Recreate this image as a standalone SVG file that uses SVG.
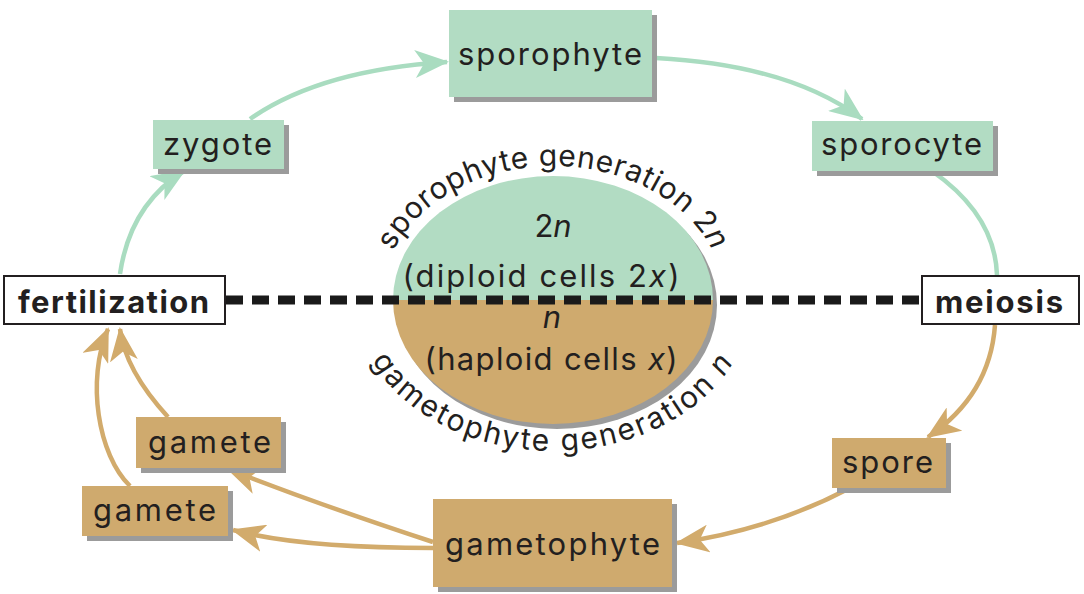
<svg xmlns="http://www.w3.org/2000/svg" width="1084" height="594" viewBox="0 0 1084 594">
<style>
.g{fill:#b2dcc3}
.t{fill:#cfaa6e}
.sh{fill:#9b9b9b}
.lbl{font-family:Inter,"Open Sans","DejaVu Sans",sans-serif;font-size:31px;fill:#231f20;text-anchor:middle}
.b{font-weight:bold}
.gl{fill:none;stroke:#a9dcc0;stroke-width:4.5}
.tl{fill:none;stroke:#d2ab6c;stroke-width:4.5}
.arc{font-family:Inter,"Open Sans","DejaVu Sans",sans-serif;font-size:30px;fill:#231f20}
</style>
<defs>
<marker id="ag" viewBox="0 0 34 28" refX="32" refY="14" markerWidth="34" markerHeight="28" markerUnits="userSpaceOnUse" orient="auto">
<path d="M34,14 L0,0 L9,14 L0,28 Z" fill="#a9dcc0"/>
</marker>
<marker id="at" viewBox="0 0 34 28" refX="32" refY="14" markerWidth="34" markerHeight="28" markerUnits="userSpaceOnUse" orient="auto">
<path d="M34,14 L0,0 L9,14 L0,28 Z" fill="#d2ab6c"/>
</marker>
<path id="topArc" d="M381,301 A172,135 0 0 1 725,301"/>
<path id="botArc" d="M355,300 A198,151 0 0 0 751,300"/>
</defs>
<rect width="1084" height="594" fill="#ffffff"/>

<g id="center">
<ellipse cx="557" cy="305" rx="160" ry="124" class="sh"/>
<path d="M393,300 A160,124 0 0 1 713,300 Z" class="g"/>
<path d="M393,300 A160,124 0 0 0 713,300 Z" class="t"/>
<text class="lbl" x="553" y="237">2<tspan font-style="italic">n</tspan></text>
<text class="lbl" x="541" y="287" textLength="277" lengthAdjust="spacing">(diploid cells 2<tspan font-style="italic">x</tspan>)</text>
<text class="lbl" x="552" y="328" font-style="italic">n</text>
<text class="lbl" x="551" y="370" textLength="253" lengthAdjust="spacing">(haploid cells <tspan font-style="italic">x</tspan>)</text>
<text class="arc" letter-spacing="0.6"><textPath href="#topArc" startOffset="50%" text-anchor="middle">sporophyte generation 2<tspan font-style="italic">n</tspan></textPath></text>
<text class="arc" letter-spacing="2.1"><textPath href="#botArc" startOffset="50%" text-anchor="middle">gametophyte generation <tspan font-style="italic">n</tspan></textPath></text>
</g>

<g id="connectors">
<line x1="226" y1="300" x2="921" y2="300" stroke="#1a1a1a" stroke-width="9" stroke-dasharray="17 9"/>
<path class="gl" d="M250,119 Q320,70 447,62" marker-end="url(#ag)"/>
<path class="gl" d="M656,58 Q790,65 862,119" marker-end="url(#ag)"/>
<path class="gl" d="M120,274 Q130,205 184,171" marker-end="url(#ag)"/>
<path class="gl" d="M932,171 Q995,215 997,275"/>
<path class="tl" d="M995,325 Q990,395 928,437" marker-end="url(#at)"/>
<path class="tl" d="M850,488 Q770,530 677,543" marker-end="url(#at)"/>
<path class="tl" d="M433,542 Q320,505 228,469" marker-end="url(#at)"/>
<path class="tl" d="M433,548 Q300,548 233,530" marker-end="url(#at)"/>
<path class="tl" d="M168,417 Q125,370 120,329" marker-end="url(#at)"/>
<path class="tl" d="M130,486 C98,455 86,380 108,329" marker-end="url(#at)"/>
</g>

<g id="sporophyte">
<rect x="454" y="15" width="203" height="87" class="sh"/>
<rect x="449" y="10" width="203" height="87" class="g"/>
<text class="lbl" x="550" y="65" textLength="184" lengthAdjust="spacing">sporophyte</text>
</g>
<g id="zygote">
<rect x="158" y="125" width="131" height="49" class="sh"/>
<rect x="153" y="120" width="131" height="49" class="g"/>
<text class="lbl" x="217.5" y="155" textLength="109" lengthAdjust="spacing">zygote</text>
</g>
<g id="sporocyte">
<rect x="817" y="126" width="181" height="50" class="sh"/>
<rect x="812" y="121" width="181" height="50" class="g"/>
<text class="lbl" x="901.5" y="155" textLength="161" lengthAdjust="spacing">sporocyte</text>
</g>
<g id="fertilization">
<rect x="4" y="276" width="221" height="48" fill="#ffffff" stroke="#231f20" stroke-width="2"/>
<text class="lbl b" x="113.5" y="313" textLength="191" lengthAdjust="spacing">fertilization</text>
</g>
<g id="meiosis">
<rect x="922" y="276" width="157" height="48" fill="#ffffff" stroke="#231f20" stroke-width="2"/>
<text class="lbl b" x="999" y="313" textLength="128" lengthAdjust="spacing">meiosis</text>
</g>
<g id="spore">
<rect x="837" y="443" width="114" height="50" class="sh"/>
<rect x="832" y="438" width="114" height="50" class="t"/>
<text class="lbl" x="887.5" y="473" textLength="91" lengthAdjust="spacing">spore</text>
</g>
<g id="gametophyte">
<rect x="438" y="504" width="239" height="88" class="sh"/>
<rect x="433" y="499" width="239" height="88" class="t"/>
<text class="lbl" x="552.5" y="555" textLength="215" lengthAdjust="spacing">gametophyte</text>
</g>
<g id="gamete1">
<rect x="141" y="422" width="145" height="51" class="sh"/>
<rect x="136" y="417" width="145" height="51" class="t"/>
<text class="lbl" x="209.5" y="453" textLength="123" lengthAdjust="spacing">gamete</text>
</g>
<g id="gamete2">
<rect x="87" y="491" width="146" height="50" class="sh"/>
<rect x="82" y="486" width="146" height="50" class="t"/>
<text class="lbl" x="154.5" y="521" textLength="123" lengthAdjust="spacing">gamete</text>
</g>
</svg>
